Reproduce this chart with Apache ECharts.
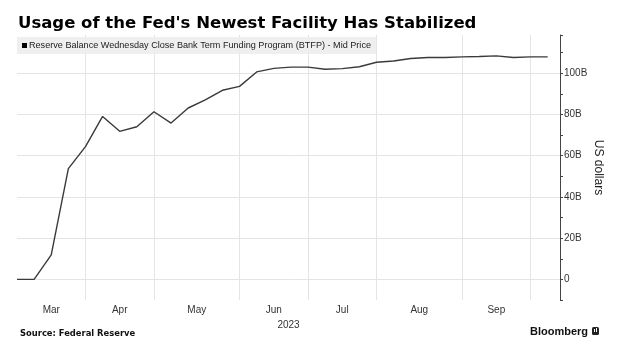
<!DOCTYPE html>
<html>
<head>
<meta charset="utf-8">
<script src="https://cdn.jsdelivr.net/npm/echarts@6/dist/echarts.min.js"></script>
<style>
html,body{margin:0;padding:0;background:#fff;}
#chart{width:621px;height:350px;}
</style>
</head>
<body>
<div id="chart"></div>
<script>
// Weekly (Wednesday) observations, 2023
var dates = ['2023-03-01','2023-03-08','2023-03-15','2023-03-22','2023-03-29',
  '2023-04-05','2023-04-12','2023-04-19','2023-04-26',
  '2023-05-03','2023-05-10','2023-05-17','2023-05-24','2023-05-31',
  '2023-06-07','2023-06-14','2023-06-21','2023-06-28',
  '2023-07-05','2023-07-12','2023-07-19','2023-07-26',
  '2023-08-02','2023-08-09','2023-08-16','2023-08-23','2023-08-30',
  '2023-09-06','2023-09-13','2023-09-20','2023-09-27',
  '2023-10-04'];
// BTFP balance, billions of US dollars
var btfp = [0, 0, 11.9, 53.7, 64.4,
  79.0, 71.8, 74.0, 81.3,
  75.8, 83.1, 87.0, 91.7, 93.6,
  100.6, 102.3, 102.9, 102.9,
  101.9, 102.2, 103.1, 105.3,
  105.9, 107.1, 107.6, 107.6, 107.9,
  108.1, 108.4, 107.6, 107.9,
  107.9];
var monthNames = ['Mar','Apr','May','Jun','Jul','Aug','Sep'];
var yTickLabels = ['0','20B','40B','60B','80B','100B'];
var yTickValues = [0, 20, 40, 60, 80, 100];
var seriesName = 'Reserve Balance Wednesday Close Bank Term Funding Program (BTFP) - Mid Price';

// month boundaries: last Wednesday of each labelled month
var boundaries = [0];
for (var i = 0; i < dates.length - 1; i++) {
  if (dates[i].slice(5,7) !== dates[i+1].slice(5,7)) boundaries.push(i);
}
var labelMap = {};
for (var m = 0; m < monthNames.length; m++) {
  var c = (boundaries[m] + boundaries[m+1]) / 2;
  labelMap[c.toFixed(1)] = monthNames[m];
}
var vGrid = boundaries.slice(1);
var yLabelMap = {};
yTickValues.forEach(function(v, k){ yLabelMap[v] = yTickLabels[k]; });

var data = btfp.map(function(v, k){ return [k, v]; });

var chart = echarts.init(document.getElementById('chart'), null, {renderer:'canvas'});
var gridColor = '#e4e4e4';
chart.setOption({
  animation: false,
  backgroundColor: '#ffffff',
  title: [
    {text: "Usage of the Fed's Newest Facility Has Stabilized", left: 18, top: 15, padding: 0,
     textStyle: {fontFamily: 'DejaVu Sans', fontWeight: 'bold', fontSize: 16.5, color: '#000'}},
    {text: 'Source: Federal Reserve', left: 20, top: 330, padding: 0,
     textStyle: {fontFamily: 'DejaVu Sans', fontWeight: 'bold', fontSize: 8.4, color: '#111'}},
    {text: 'Bloomberg', left: 530, top: 326, padding: 0,
     textStyle: {fontFamily: 'Liberation Sans', fontWeight: 'bold', fontSize: 11, color: '#111'}}
  ],
  graphic: [
    {type: 'rect', left: 592, top: 327, shape: {width: 7, height: 8, r: 1.5}, style: {fill: '#222'}},
    {type: 'rect', left: 594, top: 329, shape: {width: 1, height: 3}, style: {fill: '#fff'}},
    {type: 'rect', left: 596, top: 328, shape: {width: 1, height: 4}, style: {fill: '#fff'}}
  ],
  legend: {
    left: 17, top: 37, z: 10,
    backgroundColor: 'rgba(236,236,236,0.85)',
    padding: [4, 5, 4, 5],
    icon: 'rect', itemWidth: 5, itemHeight: 5, itemGap: 2,
    selectedMode: false,
    data: [{name: seriesName, itemStyle: {color: '#000'}}],
    textStyle: {fontFamily: 'Liberation Sans', fontSize: 9.1, color: '#222', padding: [0,0,0,-3]}
  },
  grid: {left: 17, right: 61, top: 35, bottom: 50, containLabel: false},
  xAxis: {
    type: 'value', min: 0, max: 31.72, interval: 0.5,
    name: '2023', nameLocation: 'middle', nameGap: 17,
    nameTextStyle: {fontFamily: 'Liberation Sans', fontSize: 10, color: '#333'},
    axisLine: {show: false, onZero: false}, axisTick: {show: false}, splitLine: {show: false},
    axisLabel: {
      margin: 5, fontFamily: 'Liberation Sans', fontSize: 10, color: '#333',
      showMinLabel: true, showMaxLabel: true,
      formatter: function(v){ var k = (Math.round(v*2)/2).toFixed(1); return labelMap[k] || ''; }
    }
  },
  yAxis: {
    type: 'value', position: 'right', min: -10, max: 118.5, interval: 10,
    name: 'US dollars', nameLocation: 'middle', nameGap: 32, nameRotate: -90,
    nameMoveOverlap: false,
    nameTextStyle: {fontFamily: 'Liberation Sans', fontSize: 12, color: '#222'},
    axisLine: {show: true, onZero: false, lineStyle: {color: '#444', width: 1}},
    axisTick: {show: true, length: 3, lineStyle: {color: '#444'}},
    splitLine: {show: false},
    axisLabel: {
      margin: 4, fontFamily: 'Liberation Sans', fontSize: 10, color: '#333',
      formatter: function(v){ return yLabelMap.hasOwnProperty(v) ? yLabelMap[v] : ''; }
    }
  },
  series: [
    {
      type: 'line', name: 'grid', data: [], silent: true, z: 1,
      markLine: {
        z: 1, silent: true, symbol: ['none','none'], label: {show: false},
        lineStyle: {color: gridColor, width: 1, type: 'solid'},
        data: yTickValues.map(function(v){ return {yAxis: v}; })
          .concat(vGrid.map(function(v){ return {xAxis: v}; }))
      }
    },
    {
      type: 'line', name: seriesName, data: data, z: 3,
      showSymbol: false, symbol: 'none',
      lineStyle: {color: '#3a3a3a', width: 1.4},
      itemStyle: {color: '#3a3a3a'}
    }
  ]
});
</script>
</body>
</html>
